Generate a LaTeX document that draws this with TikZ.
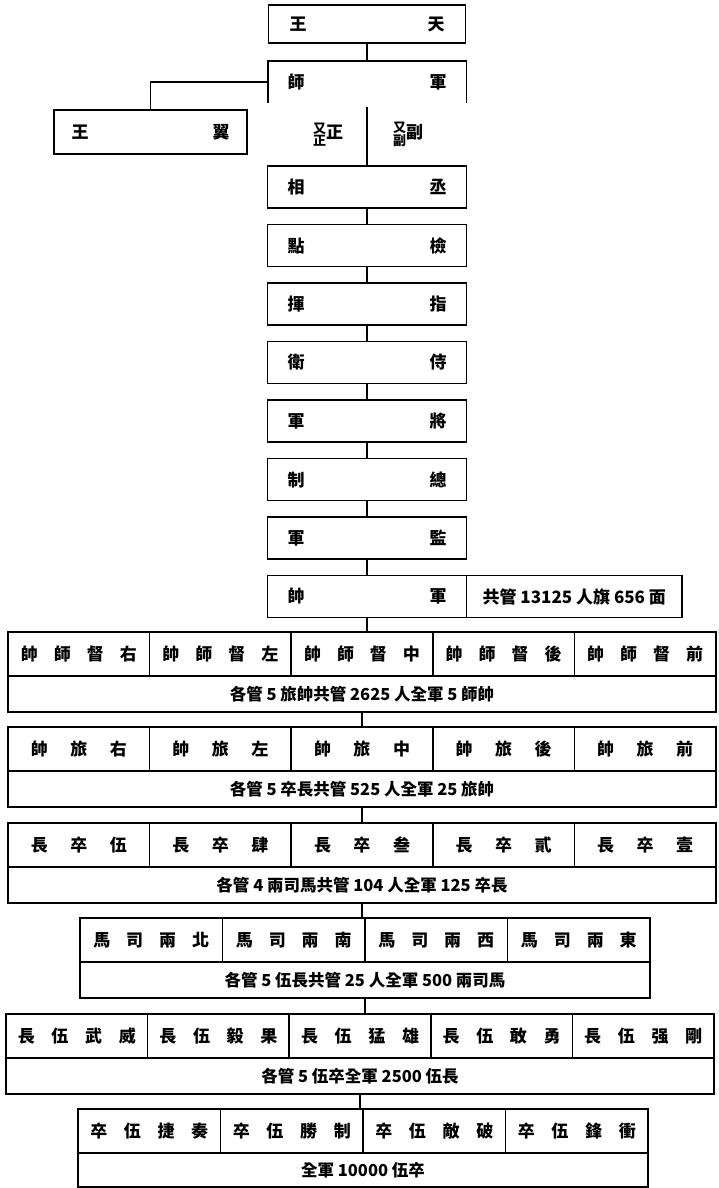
\documentclass[tikz,border=0pt]{standalone}
\usepackage{fontspec}
\setmainfont{Noto Sans CJK TC}
\newcommand{\celltext}[2]{\makebox[#1][s]{#2}}
\newcommand{\cellfont}{\fontsize{17}{20}\selectfont\bfseries}
\newcommand{\notefont}{\fontsize{16.5}{19}\selectfont\bfseries}

\begin{document}
\begin{tikzpicture}[x=1pt, y=-1pt, line width=1.5pt,
    box/.style={draw, rectangle, inner sep=0pt, font=\cellfont},
    midbox/.style={box, minimum width=199pt, minimum height=42pt},
    cell/.style={box, minimum height=44pt},
    subbox/.style={box, minimum height=36pt, font=\notefont}]

    \useasboundingbox (0,0) rectangle (718,1188);

    % top
    \node (tianwang) [box, minimum width=197pt, minimum height=38pt] at (367,24) {\celltext{155pt}{王 天}};
    \node (junshi) [box, draw=none, minimum width=197pt, minimum height=40pt] at (367,82) {\celltext{159pt}{師 軍}};
    \draw (junshi.south west) -- (junshi.north west) -- (junshi.north east) -- (junshi.south east);
    \node (wangyi) [box, minimum width=193pt, minimum height=44pt] at (150.5,132) {\celltext{158pt}{王 翼}};
    \node (zheng) [font=\cellfont] at (328,136) {{\fontsize{13}{13}\selectfont\begin{tabular}{@{}c@{}}又\\[-2pt]正\end{tabular}}正};
    \node (fu) [font=\cellfont] at (408,136) {{\fontsize{13}{13}\selectfont\begin{tabular}{@{}c@{}}又\\[-2pt]副\end{tabular}}副};

    \draw (junshi.west) -| (wangyi.north);

    \foreach \n/\y/\t in {chengxiang/187/相 丞, jiandian/245.5/點 檢, zhihui/304/揮 指,
        shiwei/362.5/衛 侍, jiangjun/421/軍 將, zongzhi/479.5/制 總, jianjun/538/軍 監}
    {
        \node (\n) [midbox] at (367,\y) {\celltext{159pt}{\t}};
    }
    \node (junshuai) [midbox] at (367,596.5) {\celltext{159pt}{帥 軍}};
    \node (junshuainote) [box, minimum width=215.5pt, minimum height=42pt] at (574.25,596.5) {共管 13125 人旗 656 面};

    \draw ([yshift=-4pt]junshi.south) -- (chengxiang.north);
    \foreach \a/\b in {tianwang/junshi, chengxiang/jiandian, jiandian/zhihui, zhihui/shiwei,
        shiwei/jiangjun, jiangjun/zongzhi, zongzhi/jianjun, jianjun/junshuai}
    {
        \draw (\a) -- (\b);
    }

    % shi shuai
    \foreach \i/\t in {1/帥 師 督 右, 2/帥 師 督 左, 3/帥 師 督 中, 4/帥 師 督 後, 5/帥 師 督 前}
    {
        \node (shi\i) [cell, minimum width=141.6pt] at ({8+141.6*(\i-0.5)},654) {\celltext{116pt}{\t}};
    }
    \node (shisub) [subbox, minimum width=708pt] at (362,694) {各管 5 旅帥共管 2625 人全軍 5 師帥};

    % lv shuai
    \foreach \i/\t in {1/帥 旅 右, 2/帥 旅 左, 3/帥 旅 中, 4/帥 旅 後, 5/帥 旅 前}
    {
        \node (lv\i) [cell, minimum width=141.6pt] at ({8+141.6*(\i-0.5)},749) {\celltext{96pt}{\t}};
    }
    \node (lvsub) [subbox, minimum width=708pt] at (362,789) {各管 5 卒長共管 525 人全軍 25 旅帥};

    % zu zhang
    \foreach \i/\t in {1/長 卒 伍, 2/長 卒 肆, 3/長 卒 叁, 4/長 卒 貳, 5/長 卒 壹}
    {
        \node (zu\i) [cell, minimum width=141.6pt] at ({8+141.6*(\i-0.5)},845) {\celltext{96pt}{\t}};
    }
    \node (zusub) [subbox, minimum width=708pt] at (362,885) {各管 4 兩司馬共管 104 人全軍 125 卒長};

    % liang si ma
    \foreach \i/\t in {1/馬 司 兩 北, 2/馬 司 兩 南, 3/馬 司 兩 西, 4/馬 司 兩 東}
    {
        \node (liang\i) [cell, minimum width=142.5pt] at ({80+142.5*(\i-0.5)},940) {\celltext{116pt}{\t}};
    }
    \node (liangsub) [subbox, minimum width=570pt] at (365,980) {各管 5 伍長共管 25 人全軍 500 兩司馬};

    % wu zhang
    \foreach \i/\t in {1/長 伍 武 威, 2/長 伍 毅 果, 3/長 伍 猛 雄, 4/長 伍 敢 勇, 5/長 伍 强 剛}
    {
        \node (wu\i) [cell, minimum width=141.6pt] at ({6+141.6*(\i-0.5)},1036) {\celltext{118pt}{\t}};
    }
    \node (wusub) [subbox, minimum width=708pt] at (360,1076) {各管 5 伍卒全軍 2500 伍長};

    % wu zu
    \foreach \i/\t in {1/卒 伍 捷 奏, 2/卒 伍 勝 制, 3/卒 伍 敵 破, 4/卒 伍 鋒 衝}
    {
        \node (zuwu\i) [cell, minimum width=142.5pt] at ({78+142.5*(\i-0.5)},1131) {\celltext{118pt}{\t}};
    }
    \node (zuwusub) [subbox, minimum width=570pt, minimum height=34pt] at (363,1170) {全軍 10000 伍卒};

    \draw (junshuai) -- (junshuai |- shi3.north);
    \draw (shisub) -- (shisub |- lv3.north);
    \draw (lvsub) -- (lvsub |- zu3.north);
    \draw (zusub) -- (zusub |- liang2.north);
    \draw (liangsub) -- (liangsub |- wu3.north);
    \draw (wusub) -- (wusub |- zuwu2.north);

\end{tikzpicture}
\end{document}
